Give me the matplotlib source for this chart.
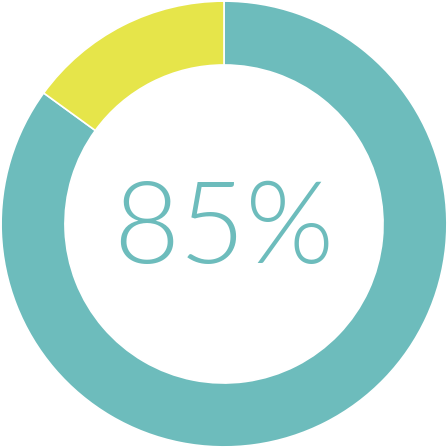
import matplotlib.pyplot as plt

labels = ['Done', 'Remaining']
values = [85, 15]
colors = ['#6dbcbc', '#e6e54a']
center_text = '85%'

fig = plt.figure(figsize=(4.48, 4.48), dpi=100)
ax = fig.add_axes([0, 0, 1, 1])

ax.pie(values, colors=colors, startangle=90, counterclock=False,
       radius=0.995, wedgeprops=dict(width=0.285, edgecolor='white', linewidth=1.2))
ax.text(0, -0.035, center_text, ha='center', va='center', fontsize=82,
        color='#6dbcbc', family='Lato', fontweight=300)

ax.set_xlim(-1, 1)
ax.set_ylim(-1, 1)
ax.set_aspect('equal')
ax.axis('off')

fig.savefig('out.png', dpi=100, facecolor='white')
